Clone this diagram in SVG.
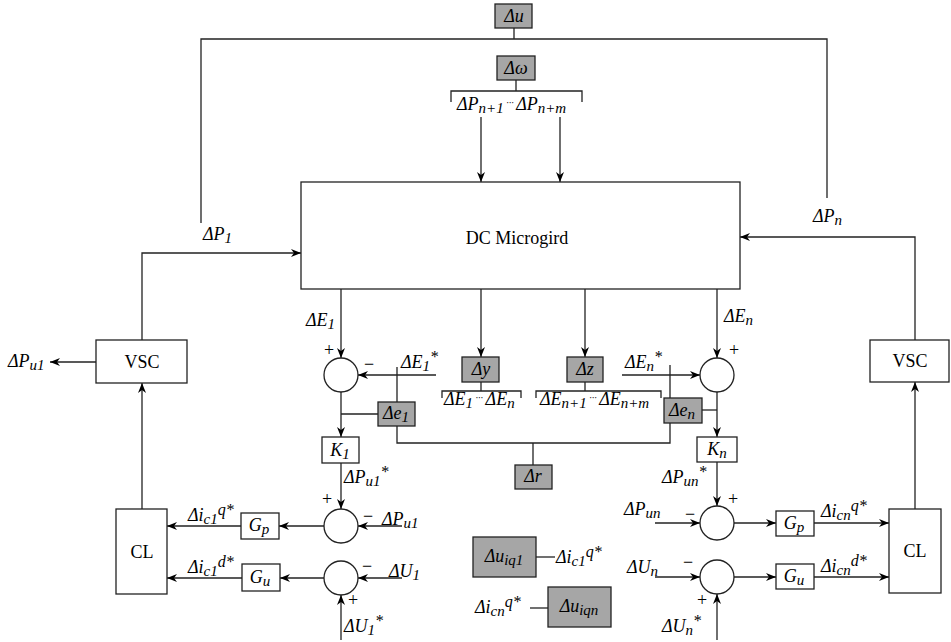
<svg xmlns="http://www.w3.org/2000/svg" width="951" height="642" viewBox="0 0 951 642" font-family="'Liberation Serif', serif" font-size="18">
<defs>
<marker id="a" viewBox="0 0 10 8" refX="10" refY="4" markerWidth="10" markerHeight="8" orient="auto" markerUnits="userSpaceOnUse"><path d="M0,0 L10,4 L0,8 L3,4 z" fill="#000"/></marker>
</defs>
<style>
.l{fill:none;stroke:#222;stroke-width:1.3}
.ar{fill:none;stroke:#222;stroke-width:1.3;marker-end:url(#a)}
.b{fill:#fff;stroke:#222;stroke-width:1.3}
.g{fill:#a6a6a6;stroke:#222;stroke-width:1.3}
.i{font-style:italic}
.m{text-anchor:middle}
.s{font-size:15px}
.p{font-size:16px}
.d{font-size:10px}
</style>
<rect width="951" height="642" fill="#fff"/>

<g id="connectors">
<path class="l" d="M514,28 V39 M201,223 V39 H827 V198"/>
<path class="l" d="M516,80 V91 M451,102 V91 H582 V102"/>
<path class="ar" d="M481,117 V182"/>
<path class="ar" d="M560,117 V182"/>
<path class="ar" d="M142,340 V253 H301"/>
<path class="ar" d="M915,340 V237 H740"/>
<path class="ar" d="M96,362 H50"/>
<path class="ar" d="M142,509 V383"/>
<path class="ar" d="M915,509 V382"/>
<path class="ar" d="M341,289 V358"/>
<path class="ar" d="M717,289 V358"/>
<path class="ar" d="M436,375 H358"/>
<path class="ar" d="M622,375 H700"/>
<path class="l" d="M397,367 V402 M397,426 V443 H670 V423 M670,398 V365"/>
<path class="l" d="M533,443 V465"/>
<path class="ar" d="M341,392 V437"/>
<path class="l" d="M378,414 H341"/>
<path class="ar" d="M717,392 V437"/>
<path class="l" d="M702,410 H717"/>
<path class="ar" d="M481,289 V357"/>
<path class="ar" d="M585,289 V357"/>
<path class="l" d="M481,382 V391 M442,398 V391 H521 V398"/>
<path class="l" d="M585,382 V391 M536,398 V391 H661 V398"/>
<path class="ar" d="M341,463 V509"/>
<path class="ar" d="M717,462 V506"/>
<path class="ar" d="M324,526 H279"/>
<path class="ar" d="M241,526 H167"/>
<path class="ar" d="M402,526 H358"/>
<path class="ar" d="M324,578 H280"/>
<path class="ar" d="M242,578 H167"/>
<path class="ar" d="M402,578 H358"/>
<path class="ar" d="M341,640 V595"/>
<path class="ar" d="M655,523 H700"/>
<path class="ar" d="M734,523 H776"/>
<path class="ar" d="M814,523 H889"/>
<path class="ar" d="M655,577 H700"/>
<path class="ar" d="M734,577 H776"/>
<path class="ar" d="M814,577 H889"/>
<path class="ar" d="M717,640 V594"/>
<path class="l" d="M536,557 H555"/>
<path class="l" d="M530,608 H548"/>
</g>

<g id="du"><rect class="g" x="495" y="4" width="37" height="24"/><text class="i m" x="514" y="22">Δu</text></g>
<g id="dw"><rect class="g" x="497" y="56" width="38" height="24"/><text class="i m" x="516" y="74">Δω</text></g>
<text class="i" x="457" y="110">ΔP<tspan class="s" baseline-shift="-3">n+1</tspan><tspan class="d" baseline-shift="4"> ··· </tspan>ΔP<tspan class="s" baseline-shift="-3">n+m</tspan></text>

<g id="dc"><rect class="b" x="301" y="182" width="439" height="107"/><text class="m" x="517" y="244">DC Microgird</text></g>
<text class="i" x="203" y="240">ΔP<tspan class="s" baseline-shift="-3">1</tspan></text>
<text class="i" x="813" y="222">ΔP<tspan class="s" baseline-shift="-3">n</tspan></text>

<g id="vsc1"><rect class="b" x="96" y="340" width="91" height="43"/><text class="m" x="142" y="368">VSC</text></g>
<g id="vscn"><rect class="b" x="870" y="340" width="79" height="42"/><text class="m" x="910" y="367">VSC</text></g>
<text class="i" x="8" y="367">ΔP<tspan class="s" baseline-shift="-3">u1</tspan></text>

<text class="i" x="306" y="326">ΔE<tspan class="s" baseline-shift="-3">1</tspan></text>
<text class="i" x="724" y="322">ΔE<tspan class="s" baseline-shift="-3">n</tspan></text>
<text x="329" y="356" class="m">+</text>
<text x="369" y="370" class="m">−</text>
<text x="734" y="356" class="m">+</text>
<text class="i" x="401" y="368">ΔE<tspan class="s" baseline-shift="-3">1</tspan><tspan class="p" baseline-shift="6">*</tspan></text>
<text class="i" x="625" y="368">ΔE<tspan class="s" baseline-shift="-3">n</tspan><tspan class="p" baseline-shift="6">*</tspan></text>

<g id="sum1"><circle class="b" cx="341" cy="375" r="17"/></g>
<g id="sumn"><circle class="b" cx="717" cy="375" r="17"/></g>

<g id="dy"><rect class="g" x="462" y="357" width="37" height="25"/><text class="i m" x="481" y="375">Δy</text></g>
<g id="dz"><rect class="g" x="567" y="357" width="36" height="25"/><text class="i m" x="585" y="375">Δz</text></g>
<text class="i" x="444" y="405">ΔE<tspan class="s" baseline-shift="-3">1</tspan><tspan class="d" baseline-shift="4"> ··· </tspan>ΔE<tspan class="s" baseline-shift="-3">n</tspan></text>
<text class="i" x="540" y="405">ΔE<tspan class="s" baseline-shift="-3">n+1</tspan><tspan class="d" baseline-shift="4"> ··· </tspan>ΔE<tspan class="s" baseline-shift="-3">n+m</tspan></text>

<g id="de1"><rect class="g" x="378" y="402" width="37" height="24"/><text class="i m" x="396" y="419">Δe<tspan class="s" baseline-shift="-3">1</tspan></text></g>
<g id="den"><rect class="g" x="664" y="398" width="38" height="25"/><text class="i m" x="682" y="416">Δe<tspan class="s" baseline-shift="-3">n</tspan></text></g>
<g id="k1"><rect class="b" x="322" y="437" width="37" height="26"/><text class="i m" x="340" y="456">K<tspan class="s" baseline-shift="-3">1</tspan></text></g>
<g id="kn"><rect class="b" x="697" y="437" width="40" height="25"/><text class="i m" x="717" y="455">K<tspan class="s" baseline-shift="-3">n</tspan></text></g>
<g id="dr"><rect class="g" x="515" y="465" width="37" height="24"/><text class="i m" x="533" y="482">Δr</text></g>

<text class="i" x="344" y="483">ΔP<tspan class="s" baseline-shift="-3">u1</tspan><tspan class="p" baseline-shift="6">*</tspan></text>
<text class="i" x="662" y="483">ΔP<tspan class="s" baseline-shift="-3">un</tspan><tspan class="p" baseline-shift="6">*</tspan></text>

<g id="sp1"><circle class="b" cx="341" cy="526" r="17"/></g>
<g id="su1"><circle class="b" cx="341" cy="578" r="17"/></g>
<g id="spn"><circle class="b" cx="717" cy="523" r="17"/></g>
<g id="sun"><circle class="b" cx="717" cy="577" r="17"/></g>

<text x="327" y="505" class="m">+</text>
<text x="368" y="522" class="m">−</text>
<text x="367" y="572" class="m">−</text>
<text x="353" y="606" class="m">+</text>
<text x="733" y="505" class="m">+</text>
<text x="690" y="520" class="m">−</text>
<text x="688" y="568" class="m">−</text>
<text x="702" y="606" class="m">+</text>

<g id="gp1"><rect class="b" x="241" y="513" width="38" height="26"/><text class="i m" x="259" y="531">G<tspan class="s" baseline-shift="-3">p</tspan></text></g>
<g id="gu1"><rect class="b" x="242" y="564" width="38" height="27"/><text class="i m" x="260" y="583">G<tspan class="s" baseline-shift="-3">u</tspan></text></g>
<g id="gpn"><rect class="b" x="776" y="511" width="38" height="25"/><text class="i m" x="794" y="529">G<tspan class="s" baseline-shift="-3">p</tspan></text></g>
<g id="gun"><rect class="b" x="776" y="564" width="38" height="25"/><text class="i m" x="794" y="582">G<tspan class="s" baseline-shift="-3">u</tspan></text></g>
<g id="cl1"><rect class="b" x="116" y="509" width="51" height="85"/><text class="m" x="142" y="558">CL</text></g>
<g id="cln"><rect class="b" x="889" y="509" width="52" height="84"/><text class="m" x="915" y="557">CL</text></g>

<text class="i" x="382" y="525">ΔP<tspan class="s" baseline-shift="-3">u1</tspan></text>
<text class="i" x="389" y="577">ΔU<tspan class="s" baseline-shift="-3">1</tspan></text>
<text class="i" x="344" y="632">ΔU<tspan class="s" baseline-shift="-3">1</tspan><tspan class="p" baseline-shift="6">*</tspan></text>
<text class="i" x="188" y="521">Δi<tspan class="s" baseline-shift="-3">c1</tspan><tspan class="p" baseline-shift="6">q*</tspan></text>
<text class="i" x="188" y="573">Δi<tspan class="s" baseline-shift="-3">c1</tspan><tspan class="p" baseline-shift="6">d*</tspan></text>

<text class="i" x="624" y="515">ΔP<tspan class="s" baseline-shift="-3">un</tspan></text>
<text class="i" x="627" y="573">ΔU<tspan class="s" baseline-shift="-3">n</tspan></text>
<text class="i" x="662" y="632">ΔU<tspan class="s" baseline-shift="-3">n</tspan><tspan class="p" baseline-shift="6">*</tspan></text>
<text class="i" x="821" y="517">Δi<tspan class="s" baseline-shift="-3">cn</tspan><tspan class="p" baseline-shift="6">q*</tspan></text>
<text class="i" x="821" y="572">Δi<tspan class="s" baseline-shift="-3">cn</tspan><tspan class="p" baseline-shift="6">d*</tspan></text>

<g id="duiq1"><rect class="g" x="473" y="537" width="63" height="40"/><text class="i m" x="504" y="562">Δu<tspan class="s" baseline-shift="-3">iq1</tspan></text></g>
<g id="duiqn"><rect class="g" x="548" y="587" width="63" height="40"/><text class="i m" x="579" y="612">Δu<tspan class="s" baseline-shift="-3">iqn</tspan></text></g>
<text class="i" x="556" y="563">Δi<tspan class="s" baseline-shift="-3">c1</tspan><tspan class="p" baseline-shift="6">q*</tspan></text>
<text class="i" x="475" y="613">Δi<tspan class="s" baseline-shift="-3">cn</tspan><tspan class="p" baseline-shift="6">q*</tspan></text>
</svg>
